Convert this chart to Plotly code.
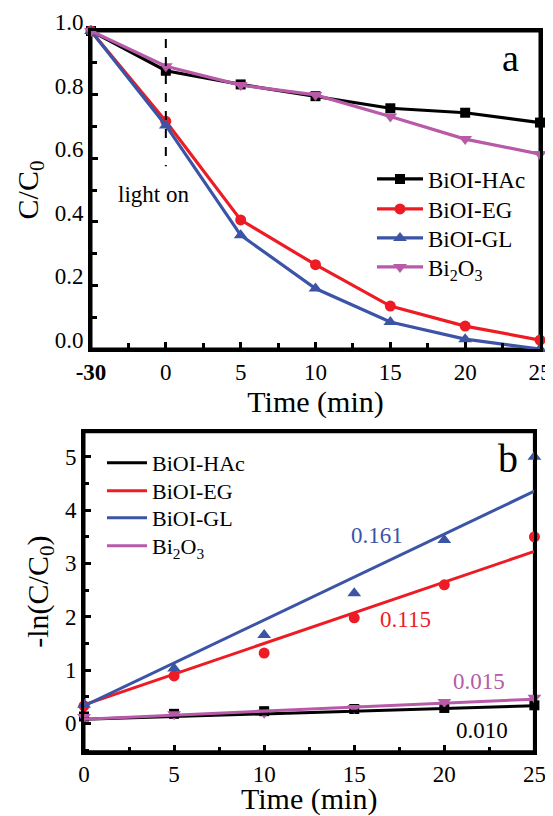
import plotly.graph_objects as go

# ---------------- data ----------------
time_a = ["-30", "0", "5", "10", "15", "20", "25"]
hac_a = [1.0, 0.875, 0.832, 0.795, 0.757, 0.743, 0.712]
eg_a = [1.0, 0.716, 0.406, 0.265, 0.135, 0.072, 0.028]
gl_a = [1.0, 0.703, 0.358, 0.190, 0.085, 0.031, 0.0]
bi_a = [1.0, 0.889, 0.830, 0.799, 0.731, 0.660, 0.613]

time_b = [0, 5, 10, 15, 20, 25]
hac_b = [0.13, 0.18, 0.23, 0.27, 0.29, 0.34]
eg_b = [0.33, 0.89, 1.32, 1.98, 2.60, 3.50]
gl_b = [0.35, 1.03, 1.66, 2.44, 3.44, 5.00]
bi_b = [0.12, 0.17, 0.20, 0.29, 0.40, 0.48]

fit_x = [0, 25]
slopes = {"BiOI-HAc": 0.010, "BiOI-EG": 0.115, "BiOI-GL": 0.161, "Bi2O3": 0.015}
intercepts = {"BiOI-HAc": 0.08, "BiOI-EG": 0.35, "BiOI-GL": 0.33, "Bi2O3": 0.08}

names = ["BiOI-HAc", "BiOI-EG", "BiOI-GL", "Bi2O3"]
labels = {"BiOI-HAc": "BiOI-HAc", "BiOI-EG": "BiOI-EG", "BiOI-GL": "BiOI-GL",
          "Bi2O3": "Bi<sub>2</sub>O<sub>3</sub>"}
colors = {"BiOI-HAc": "#000000", "BiOI-EG": "#ED1C24", "BiOI-GL": "#3B54A5", "Bi2O3": "#B85AA8"}
symbols = {"BiOI-HAc": "square", "BiOI-EG": "circle", "BiOI-GL": "triangle-up", "Bi2O3": "triangle-down"}
msize = {"BiOI-HAc": 10, "BiOI-EG": 11, "BiOI-GL": 12, "Bi2O3": 12}
series_a = {"BiOI-HAc": hac_a, "BiOI-EG": eg_a, "BiOI-GL": gl_a, "Bi2O3": bi_a}
series_b = {"BiOI-HAc": hac_b, "BiOI-EG": eg_b, "BiOI-GL": gl_b, "Bi2O3": bi_b}

FONT = "Liberation Serif, Times New Roman, serif"

# page body has an 8px margin -> figure drawn at (8, 8)
OFF = 8
W, H = 553 - OFF, 816 - OFF


def fx(px):
    return (px - OFF) / W


def fy(py):
    return 1 - (py - OFF) / H


legend_a_ids = ["legend", "legend3", "legend4", "legend5"]
legend_b_ids = ["legend2", "legend6", "legend7", "legend8"]
legend_a_y = [179, 209, 238, 267]
legend_b_y = [463, 491, 518, 546]

fig = go.Figure()

for i, n in enumerate(names):
    fig.add_trace(go.Scatter(
        x=time_a, y=series_a[n], name=labels[n], mode="lines+markers",
        line=dict(color=colors[n], width=3.2),
        marker=dict(symbol=symbols[n], size=msize[n], color=colors[n]),
        cliponaxis=False, xaxis="x", yaxis="y", legend=legend_a_ids[i]))

# empty trace that carries the minor-tick overlay axis of panel a
fig.add_trace(go.Scatter(x=[], y=[], xaxis="x3", yaxis="y", showlegend=False, hoverinfo="skip"))

for n in names:
    fig.add_trace(go.Scatter(
        x=time_b, y=series_b[n], mode="markers", showlegend=False,
        marker=dict(symbol=symbols[n], size=msize[n], color=colors[n]),
        cliponaxis=False, xaxis="x2", yaxis="y2"))
for i, n in enumerate(names):
    fig.add_trace(go.Scatter(
        x=fit_x, y=[intercepts[n] + slopes[n] * t for t in fit_x],
        name=labels[n], mode="lines", line=dict(color=colors[n], width=3),
        xaxis="x2", yaxis="y2", legend=legend_b_ids[i]))

axis_common = dict(showline=True, linecolor="black", linewidth=3, mirror=True,
                   ticks="inside", ticklen=7, tickwidth=2.5, tickcolor="black",
                   showgrid=False, zeroline=False, automargin=False,
                   tickfont=dict(family=FONT, size=23, color="black"))

legends = {}
for i, lid in enumerate(legend_a_ids):
    legends[lid] = dict(x=fx(372), y=fy(legend_a_y[i]), xanchor="left", yanchor="middle",
                        bgcolor="rgba(0,0,0,0)", font=dict(family=FONT, size=23),
                        itemwidth=46, borderwidth=0)
for i, lid in enumerate(legend_b_ids):
    legends[lid] = dict(x=fx(102), y=fy(legend_b_y[i]), xanchor="left", yanchor="middle",
                        bgcolor="rgba(0,0,0,0)", font=dict(family=FONT, size=22),
                        itemwidth=40, borderwidth=0)

A_X = [fx(91), fx(540)]
fig.update_layout(
    template="none",
    width=W, height=H, margin=dict(l=0, r=0, t=0, b=0),
    paper_bgcolor="white", plot_bgcolor="white",
    font=dict(family=FONT, color="black"),
    xaxis=dict(**axis_common, type="category", range=[0, 6], anchor="y",
               domain=A_X,
               tickmode="array", tickvals=time_a,
               ticktext=["<b>-30</b>"] + time_a[1:],
               title=dict(text="Time (min)", font=dict(family=FONT, size=30), standoff=1)),
    xaxis3=dict(overlaying="x", anchor="y", domain=A_X, range=[0, 6], dtick=0.5,
                ticks="inside", ticklen=6, tickwidth=2.5, tickcolor="black",
                showticklabels=False, showline=False, showgrid=False, zeroline=False,
                automargin=False),
    yaxis=dict(**axis_common, range=[0, 1.0], anchor="x",
               domain=[fy(349), fy(31)],
               dtick=0.2, tickformat=".1f", ticklabelshift=-9,
               minor=dict(dtick=0.1, ticks="inside", ticklen=6, tickwidth=2.5, tickcolor="black"),
               title=dict(text="C/C<sub>0</sub>", font=dict(family=FONT, size=30), standoff=8)),
    xaxis2=dict(**axis_common, range=[0, 25], anchor="y2",
                domain=[fx(84), fx(534.4)], dtick=5,
                minor=dict(dtick=2.5, ticks="inside", ticklen=5, tickwidth=2.5, tickcolor="black"),
                title=dict(text="Time (min)", font=dict(family=FONT, size=30), standoff=5)),
    yaxis2=dict(**axis_common, range=[-0.53, 5.47], anchor="x2",
                domain=[fy(751.7), fy(431.7)], dtick=1,
                minor=dict(dtick=0.5, ticks="inside", ticklen=5, tickwidth=2.5, tickcolor="black"),
                title=dict(text="-ln(C/C<sub>0</sub>)", font=dict(family=FONT, size=30), standoff=8)),
    showlegend=True,
    **legends,
)

# panel frames (drawn under the data, like the original)
for xr, yr in (("x domain", "y domain"), ("x2 domain", "y2 domain")):
    fig.add_shape(type="rect", xref=xr, yref=yr, x0=0, x1=1, y0=0, y1=1,
                  line=dict(color="black", width=3), layer="below")

# light-on marker (at the "0" category)
i0 = time_a.index("0")
fig.add_shape(type="line", xref="x", yref="y", x0=i0, x1=i0, y0=0.975, y1=0.575,
              line=dict(color="black", width=2, dash="dash"))
fig.add_annotation(xref="x", yref="y", x=i0, y=0.485, text="light on", showarrow=False,
                   font=dict(family=FONT, size=23), xshift=-12)

fig.add_annotation(xref="paper", yref="paper", x=fx(510), y=fy(58), text="a",
                   xanchor="center", yanchor="middle",
                   showarrow=False, font=dict(family=FONT, size=38))
fig.add_annotation(xref="paper", yref="paper", x=fx(508), y=fy(458), text="b",
                   xanchor="center", yanchor="middle",
                   showarrow=False, font=dict(family=FONT, size=40))

rate_pos = {"BiOI-GL": (16.25, 3.53), "BiOI-EG": (17.87, 1.94),
            "Bi2O3": (21.9, 0.78), "BiOI-HAc": (22.1, -0.13)}
for n in names:
    px, py = rate_pos[n]
    fig.add_annotation(xref="x2", yref="y2", x=px, y=py, text=f"{slopes[n]:.3f}",
                       showarrow=False, font=dict(family=FONT, size=23, color=colors[n]))

fig.write_html("out.html")
